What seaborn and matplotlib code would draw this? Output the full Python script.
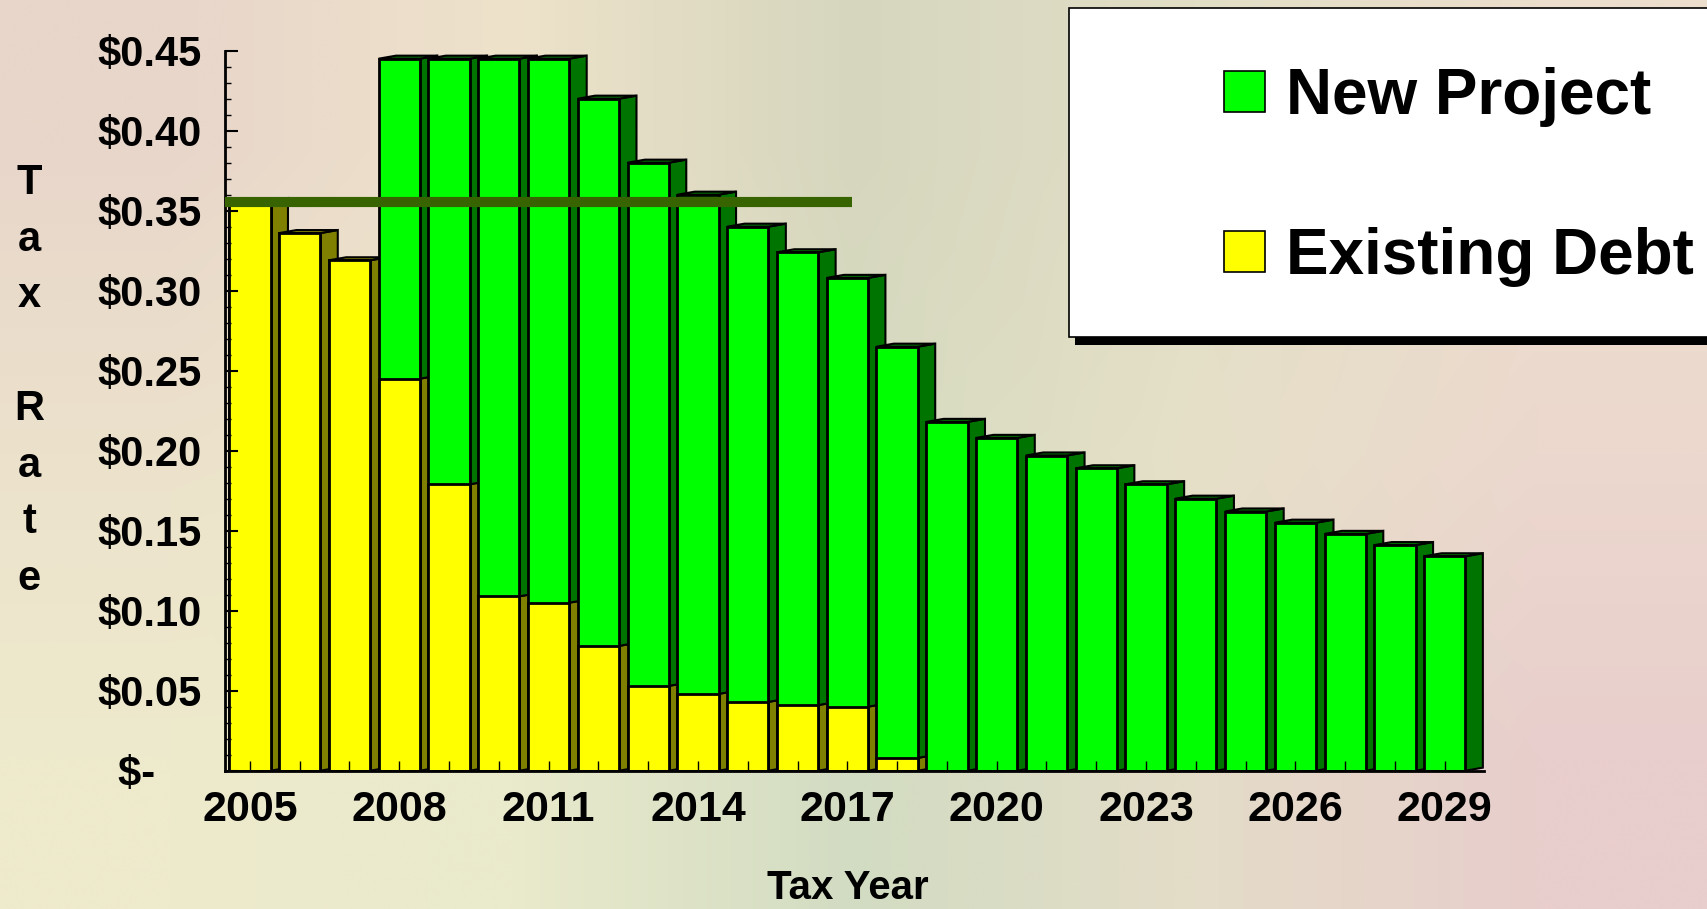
import numpy as np
import matplotlib
matplotlib.use("Agg")
import matplotlib.pyplot as plt
from matplotlib.patches import Polygon, Rectangle, Patch
from matplotlib.ticker import MultipleLocator
import pandas as pd
import seaborn as sns

# ---------------- data ----------------
years = list(range(2005, 2030))
existing_debt = [0.356, 0.336, 0.319, 0.245, 0.179, 0.109, 0.105, 0.078, 0.053,
                 0.048, 0.043, 0.041, 0.040, 0.008, 0.0, 0.0, 0.0, 0.0, 0.0,
                 0.0, 0.0, 0.0, 0.0, 0.0, 0.0]
new_project = [0.0, 0.0, 0.0, 0.200, 0.266, 0.336, 0.340, 0.342, 0.327,
               0.312, 0.297, 0.283, 0.268, 0.257, 0.218, 0.208, 0.197, 0.189,
               0.179, 0.170, 0.162, 0.155, 0.148, 0.141, 0.134]
series_names = ["New Project", "Existing Debt"]
benchmark_rate = 0.3555
benchmark_years = [2004.5, 2017.1]
y_ticks = [0.00, 0.05, 0.10, 0.15, 0.20, 0.25, 0.30, 0.35, 0.40, 0.45]
y_tick_labels = ["$-    ", "$0.05", "$0.10", "$0.15", "$0.20", "$0.25",
                 "$0.30", "$0.35", "$0.40", "$0.45"]
x_tick_years = [2005, 2008, 2011, 2014, 2017, 2020, 2023, 2026, 2029]
x_title = "Tax Year"
y_title = "T\na\nx\n\nR\na\nt\ne"

# ---------------- style ----------------
GREEN, GREEN_SIDE = "#00ff00", "#007400"
YELLOW, YELLOW_SIDE = "#ffff00", "#808000"
LINE_COLOR = "#386400"
BAR_W = 0.83
DX, DY = 0.35, 0.0019

sns.set_theme(style="white")
plt.rcParams["font.family"] = ["Liberation Sans", "DejaVu Sans"]
plt.rcParams["font.weight"] = "bold"
plt.rcParams["axes.edgecolor"] = "black"
plt.rcParams["text.color"] = "black"
plt.rcParams["axes.labelcolor"] = "black"
plt.rcParams["xtick.color"] = "black"
plt.rcParams["ytick.color"] = "black"

W, H = 1708, 909
fig = plt.figure(figsize=(W / 100, H / 100), dpi=100)

# background gradient
bg = fig.add_axes([0, 0, 1, 1], zorder=-5)
grid = np.array([
    [(232, 214, 202), (238, 226, 202), (214, 214, 190), (226, 222, 198), (236, 222, 204)],
    [(236, 226, 204), (238, 230, 202), (214, 220, 192), (230, 224, 200), (236, 216, 206)],
    [(238, 234, 204), (234, 234, 204), (210, 220, 194), (228, 220, 200), (232, 206, 204)],
]) / 255.0
bg.imshow(grid, aspect="auto", interpolation="bilinear", extent=[0, 1, 0, 1])
bg.set_axis_off()

ax = fig.add_axes([225 / W, 1 - 770.7 / H, 1258.6 / W, 720 / H])
ax.set_facecolor("none")

df = pd.DataFrame({"year": years, "existing": existing_debt, "new": new_project})
df["total"] = df["existing"] + df["new"]

# front faces
sns.barplot(data=df, x="year", y="total", native_scale=True, color=GREEN,
            saturation=1, width=BAR_W, edgecolor="black", linewidth=2,
            zorder=3, ax=ax)
sns.barplot(data=df, x="year", y="existing", native_scale=True, color=YELLOW,
            saturation=1, width=BAR_W, edgecolor="black", linewidth=2,
            zorder=3.1, ax=ax)

# 3D side and top faces
for yr, ex, tot in zip(df["year"], df["existing"], df["total"]):
    xl, xr = yr - BAR_W / 2, yr + BAR_W / 2
    segs = []
    if ex > 0:
        segs.append((0.0, ex, YELLOW_SIDE))
    if tot - ex > 0:
        segs.append((ex, tot, GREEN_SIDE))
    for y0, y1, c in segs:
        ax.add_patch(Polygon([(xr, y0), (xr + DX, y0 + DY), (xr + DX, y1 + DY), (xr, y1)],
                             closed=True, facecolor=c, edgecolor="black", lw=1.5,
                             zorder=2, clip_on=False))
    topc = GREEN_SIDE if tot - ex > 0 else YELLOW_SIDE
    ax.add_patch(Polygon([(xl, tot), (xr, tot), (xr + DX, tot + DY), (xl + DX, tot + DY)],
                         closed=True, facecolor=topc, edgecolor="black", lw=1.5,
                         zorder=2, clip_on=False))

# benchmark line
ax.plot(benchmark_years, [benchmark_rate] * 2, color=LINE_COLOR, lw=7.3,
        solid_capstyle="butt", zorder=6, clip_on=False)

ax.set_xlim(2004.5, 2029.78)
ax.set_ylim(0, 0.45)

for s in ["top", "right"]:
    ax.spines[s].set_visible(False)
for s in ["left", "bottom"]:
    ax.spines[s].set_linewidth(2)
    ax.spines[s].set_color("black")
    ax.spines[s].set_zorder(5)
ax.xaxis.set_zorder(5)
ax.yaxis.set_zorder(5)

ax.set_yticks(y_ticks, y_tick_labels)
ax.yaxis.set_minor_locator(MultipleLocator(0.01))
ax.set_xticks(years, [str(y) if y in x_tick_years else "" for y in years])
ax.tick_params(axis="y", which="major", direction="in", left=True, length=9,
               width=1.5, pad=16.5, labelsize=30, colors="black")
ax.tick_params(axis="y", which="minor", direction="in", left=True, length=4,
               width=1, colors="black")
ax.tick_params(axis="x", which="major", direction="in", bottom=True, length=7,
               width=1, pad=14, labelsize=31, colors="black")
for t in ax.get_xticklabels() + ax.get_yticklabels():
    t.set_fontweight("bold")

ax.set_xlabel(x_title, fontsize=29, fontweight="bold", va="center", color="black")
ax.xaxis.set_label_coords((848 - 225) / 1258.6, (770.7 - 888) / 720)
ax.set_ylabel(y_title, rotation=0, fontsize=30, fontweight="bold", va="center",
              ha="center", linespacing=1.53, color="black")
ax.yaxis.set_label_coords((29 - 225) / 1258.6, (770.7 - 381) / 720)

# legend box with shadow
fig.add_artist(Rectangle((1075 / W, 1 - 345 / H), (1720 - 1075) / W, (345 - 16) / H,
                         transform=fig.transFigure, facecolor="black",
                         edgecolor="none", zorder=1))
fig.add_artist(Rectangle((1069 / W, 1 - 337 / H), (1720 - 1069) / W, (337 - 8) / H,
                         transform=fig.transFigure, facecolor="white",
                         edgecolor="black", lw=1.2, zorder=2))
handles = [Patch(facecolor=GREEN, edgecolor="black", lw=1.2),
           Patch(facecolor=YELLOW, edgecolor="black", lw=1.2)]
leg = fig.legend(handles=handles, labels=series_names, loc="center left",
                 bbox_to_anchor=(1224 / W, 1 - 177 / H), frameon=False,
                 borderpad=0, borderaxespad=0, handlelength=0.64,
                 handleheight=0.62, handletextpad=0.33, labelspacing=1.57,
                 prop={"weight": "bold", "size": 46})
for t in leg.get_texts():
    t.set_color("black")
leg.set_zorder(5)

fig.savefig("out.png", dpi=100)
